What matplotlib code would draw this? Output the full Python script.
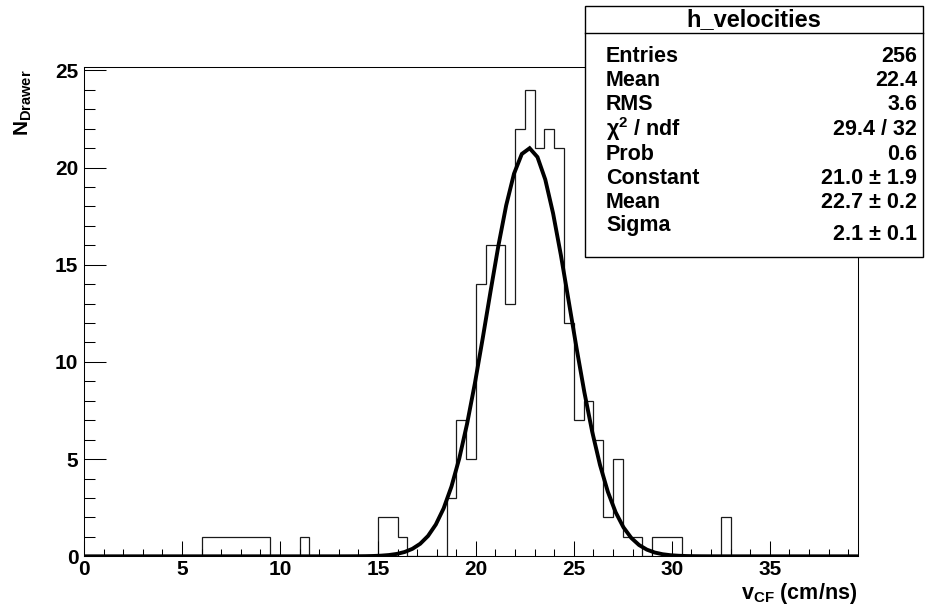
import numpy as np
import matplotlib.pyplot as plt
from matplotlib.patches import Rectangle
from matplotlib.lines import Line2D

plt.rcParams['font.family'] = ['Liberation Sans', 'DejaVu Sans']
plt.rcParams['font.weight'] = 'bold'
plt.rcParams['mathtext.fontset'] = 'custom'
plt.rcParams['mathtext.rm'] = 'Liberation Sans:bold'
plt.rcParams['mathtext.bf'] = 'Liberation Sans:bold'
plt.rcParams['mathtext.it'] = 'Liberation Sans:bold'

# histogram h_velocities: 79 bins of 0.5 cm/ns from 0 to 39.5
bin_width = 0.5
counts = [0, 0, 0, 0, 0, 0, 0, 0, 0, 0,      # 0.0 - 5.0
          0, 0, 1, 1, 1, 1, 1, 1, 1, 0,      # 5.0 - 10.0
          0, 0, 1, 0, 0, 0, 0, 0, 0, 0,      # 10.0 - 15.0
          2, 2, 1, 0, 0, 0, 0, 3, 7, 5,      # 15.0 - 20.0
          14, 16, 16, 13, 22, 24, 21, 22, 21, 12,  # 20.0 - 25.0
          7, 8, 6, 2, 5, 1, 1, 0, 1, 1,      # 25.0 - 30.0
          1, 0, 0, 0, 0, 2, 0, 0, 0, 0,      # 30.0 - 35.0
          0, 0, 0, 0, 0, 0, 0, 0, 0]         # 35.0 - 39.5

# gaussian fit parameters (from the stats box)
fit_const = 21.0
fit_mean = 22.7
fit_sigma = 2.1

stats_labels = ['Entries', 'Mean', 'RMS', 'χ$^{2}$ / ndf', 'Prob',
                'Constant', 'Mean', 'Sigma']
stats_values = ['256', '22.4', '3.6', '29.4 / 32', '0.6',
                '21.0 ± 1.9', '22.7 ± 0.2', '2.1 ± 0.1']

W, H = 925, 606


def fig_xy(x, y):
    # pixel position (from top-left) -> figure fraction
    return x / W, 1 - y / H


fig = plt.figure(figsize=(W / 100, H / 100), dpi=100)
ax_left, ax_top, ax_right, ax_bottom = 84, 66.5, 858, 556.3
ax = fig.add_axes([ax_left / W, 1 - ax_bottom / H,
                   (ax_right - ax_left) / W, (ax_bottom - ax_top) / H])

edges = np.arange(len(counts) + 1) * bin_width
ax.stairs(counts, edges, color='#1a1a1a', lw=0.9, baseline=0)

x_fit = np.linspace(edges[0], edges[-1], 100)
y_fit = fit_const * np.exp(-0.5 * ((x_fit - fit_mean) / fit_sigma) ** 2)
ax.plot(x_fit, y_fit, color='black', lw=2.8, solid_joinstyle='miter')

ax.set_xlim(edges[0], edges[-1])
ax.set_ylim(0, max(counts) * 1.05)

ax.set_xticks(np.arange(0, 36, 5))
ax.set_xticks(np.arange(0, 40, 1), minor=True)
ax.set_yticks(np.arange(0, 26, 5))
ax.set_yticks(np.arange(0, 26, 1), minor=True)
ax.tick_params(axis='x', which='major', direction='in', length=10.8, width=0.75,
               pad=3, labelsize=15)
ax.tick_params(axis='x', which='minor', direction='in', length=5.2, width=0.75)
ax.tick_params(axis='y', which='major', direction='in', length=15.8, width=0.75,
               pad=4, labelsize=15)
ax.tick_params(axis='y', which='minor', direction='in', length=7.9, width=0.75)
for lab in ax.get_xticklabels() + ax.get_yticklabels():
    lab.set_fontweight('bold')
for sp in ax.spines.values():
    sp.set_linewidth(0.75)

# axis titles, ROOT style (aligned to the axis ends)
fig.text(*fig_xy(857, 593), 'v$_{\\rm CF}$ (cm/ns)', ha='right', va='center',
         fontsize=15.5, fontweight='bold')
fig.text(*fig_xy(23, 69), 'N$_{\\rm Drawer}$', ha='center', va='top',
         rotation=90, fontsize=15, fontweight='bold')

# stats box
box_l, box_r, box_t, box_b = 585, 923, 6, 257
sep_y = 33
x0, y0 = fig_xy(box_l, box_b)
x1, y1 = fig_xy(box_r, box_t)
fig.add_artist(Rectangle((x0, y0), x1 - x0, y1 - y0, transform=fig.transFigure,
                         facecolor='white', edgecolor='black', lw=1.0, zorder=5))
sx0, sy = fig_xy(box_l, sep_y)
sx1, _ = fig_xy(box_r, sep_y)
fig.add_artist(Line2D([sx0, sx1], [sy, sy], transform=fig.transFigure,
                      color='black', lw=1.0, zorder=6))
fig.text(*fig_xy((box_l + box_r) / 2, 20), 'h_velocities', ha='center',
         va='center', fontsize=17, fontweight='bold', zorder=7)

row_y = [56, 80.5, 105, 129.5, 154, 178.5, 203, 226]
for i, (lab, val) in enumerate(zip(stats_labels, stats_values)):
    yy = row_y[i]
    fig.text(*fig_xy(606, yy), lab, ha='left', va='center', fontsize=15.5,
             fontweight='bold', zorder=7)
    vy = yy + 8 if lab == 'Sigma' else yy
    fig.text(*fig_xy(917, vy), val, ha='right', va='center', fontsize=15.5,
             fontweight='bold', zorder=7)

fig.savefig('out.png', dpi=100)
